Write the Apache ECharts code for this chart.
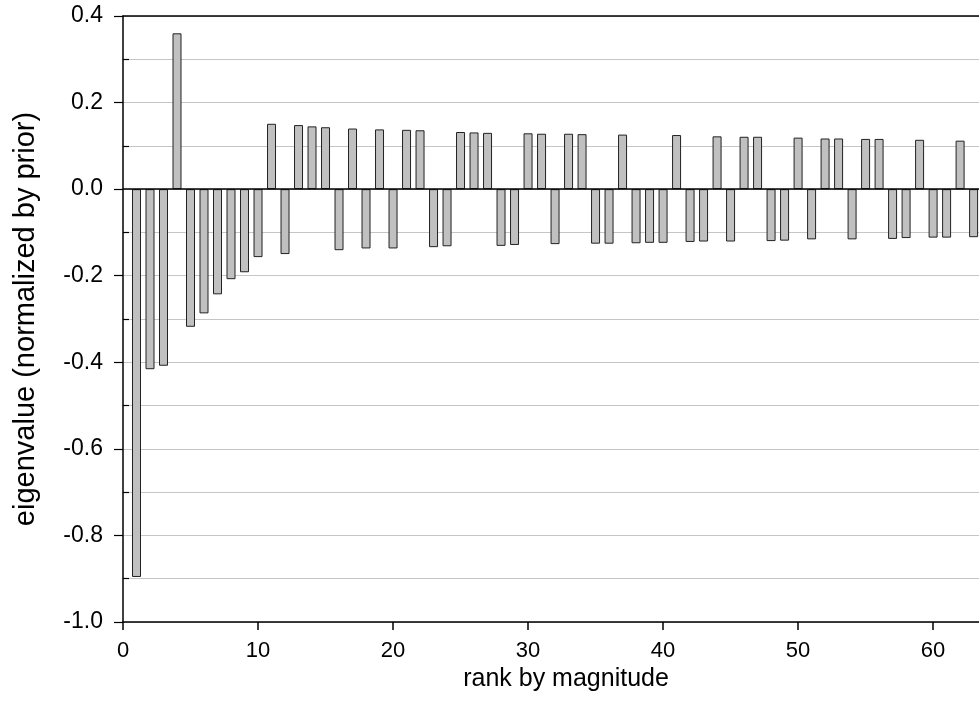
<!DOCTYPE html>
<html>
<head>
<meta charset="utf-8">
<script src="https://cdn.jsdelivr.net/npm/echarts@6/dist/echarts.min.js"></script>
<style>
html,body{margin:0;padding:0;background:#fff;}
#chart{width:979px;height:702px;}
</style>
</head>
<body>
<div id="chart"></div>
<script>
const ranks = [1,2,3,4,5,6,7,8,9,10,11,12,13,14,15,16,17,18,19,20,21,22,23,24,25,26,27,28,29,30,31,32,33,34,35,36,37,38,39,40,41,42,43,44,45,46,47,48,49,50,51,52,53,54,55,56,57,58,59,60,61,62,63];
const eigenvalues = [
  -0.896, -0.416, -0.408, 0.360, -0.318, -0.287, -0.243, -0.208, -0.192, -0.157,
   0.151, -0.150,  0.148, 0.145,  0.143, -0.141,  0.140, -0.137,  0.138, -0.137,
   0.137,  0.136, -0.134, -0.132, 0.132,  0.131,  0.130, -0.131, -0.129,  0.129,
   0.128, -0.127,  0.128, 0.127, -0.126, -0.126,  0.126, -0.125, -0.124, -0.124,
   0.125, -0.122, -0.121, 0.122, -0.121,  0.121,  0.121, -0.120, -0.119,  0.119,
  -0.116,  0.117,  0.117, -0.116, 0.116,  0.116, -0.115, -0.113,  0.114, -0.112,
  -0.112,  0.112, -0.111
];
const xTicks = [0,10,20,30,40,50,60];
const yMajorTicks = [-1.0,-0.8,-0.6,-0.4,-0.2,0.0,0.2,0.4];
const yMinorTicks = [-0.9,-0.7,-0.5,-0.3,-0.1,0.1,0.3];

const FONT = 'Liberation Sans, Arial, Helvetica, sans-serif';
const chart = echarts.init(document.getElementById('chart'), null, {renderer:'canvas'});
const data = ranks.map((r,i)=>[r, eigenvalues[i]]);
const gridLine = {show:true, lineStyle:{color:'#c6c6c6', width:1.2}};

chart.setOption({
  animation:false,
  backgroundColor:'#fff',
  grid:{left:123, right:0, top:16, bottom:80, containLabel:false, outerBoundsMode:'none'},
  xAxis:[{
    type:'value', min:0, max:63.4, interval:10, position:'bottom',
    name:'rank by magnitude', nameLocation:'middle', nameGap:40,
    nameTextStyle:{fontFamily:FONT, fontSize:25, color:'#000', padding:[0,0,0,30]},
    axisLine:{show:true, onZero:false, lineStyle:{color:'#000', width:1.5}},
    axisTick:{show:true, inside:false, length:8, customValues:xTicks, lineStyle:{color:'#000', width:1.5}},
    axisLabel:{show:true, customValues:xTicks, margin:18, fontFamily:FONT, fontSize:22, color:'#000',
      formatter:v=>String(v)},
    splitLine:{show:false}
  },{
    type:'value', min:0, max:63.4, position:'top',
    axisLine:{show:true, onZero:false, lineStyle:{color:'#000', width:1.5}},
    axisTick:{show:false}, axisLabel:{show:false}, splitLine:{show:false}
  }],
  yAxis:[{
    type:'value', min:-1.0, max:0.4, interval:0.2, position:'left',
    name:'eigenvalue (normalized by prior)', nameLocation:'middle', nameGap:83,
    nameTextStyle:{fontFamily:FONT, fontSize:29, color:'#000'},
    axisLine:{show:true, onZero:false, lineStyle:{color:'#000', width:1.5}},
    axisTick:{show:true, inside:false, length:9, customValues:yMajorTicks, lineStyle:{color:'#000', width:1.2}},
    axisLabel:{show:true, customValues:yMajorTicks, margin:20, fontFamily:FONT, fontSize:23, color:'#000',
      formatter:v=>v.toFixed(1)},
    splitLine:gridLine
  },{
    type:'value', min:-1.0, max:0.4, interval:0.1, position:'left', offset:0,
    axisLine:{show:false},
    axisTick:{show:true, inside:true, length:6, customValues:yMinorTicks, lineStyle:{color:'#000', width:1.2}},
    axisLabel:{show:false},
    splitLine:gridLine
  }],
  series:[{
    type:'bar', xAxisIndex:0, yAxisIndex:0, data:data, barWidth:9,
    itemStyle:{color:'#c0c0c0', borderColor:'#222', borderWidth:1},
    markLine:{silent:true, symbol:'none', label:{show:false},
      lineStyle:{color:'#000', width:1.7, type:'solid'},
      data:[{yAxis:0}]}
  }]
});
</script>
</body>
</html>
